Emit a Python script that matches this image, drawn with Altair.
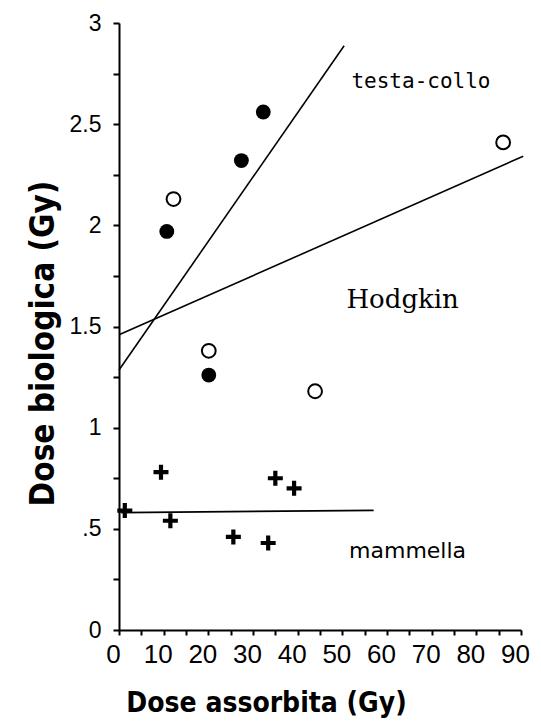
import altair as alt
import pandas as pd

# --- data ---
# filled circles (testa-collo)
tc_x = [10.7, 20.1, 27.4, 32.3]
tc_y = [1.97, 1.26, 2.32, 2.56]
# open circles (Hodgkin)
hd_x = [12.2, 20.1, 43.9, 86.0]
hd_y = [2.13, 1.38, 1.18, 2.41]
# crosses (mammella)
mm_x = [1.3, 9.4, 11.5, 25.6, 33.4, 35.0, 39.2]
mm_y = [0.59, 0.78, 0.54, 0.46, 0.43, 0.75, 0.70]

# fitted lines
line_names = ["testa-collo", "Hodgkin", "mammella"]
line_intercepts = [1.285, 1.459, 0.58]
line_slopes = [0.0318, 0.00975, 0.0002]
line_x_start = [0.0, 0.0, 0.5]
line_x_end = [50.4, 90.5, 57.0]

# annotations
ann_text = ["testa-collo", "Hodgkin", "mammella"]
ann_x = [67.6, 63.5, 64.6]
ann_y = [2.71, 1.63, 0.39]

x_ticks = list(range(0, 91, 5))
y_ticks = [i * 0.25 for i in range(13)]

# --- tables ---
rows = []
for n, b, m, x0, x1 in zip(line_names, line_intercepts, line_slopes, line_x_start, line_x_end):
    for xv in (x0, x1):
        rows.append({"name": n, "x": xv, "y": b + m * xv})
lines_df = pd.DataFrame(rows)
tc_df = pd.DataFrame({"x": tc_x, "y": tc_y})
hd_df = pd.DataFrame({"x": hd_x, "y": hd_y})
mm_df = pd.DataFrame({"x": mm_x, "y": mm_y})
ann_df = pd.DataFrame({"t": ann_text, "x": ann_x, "y": ann_y})

x_axis = alt.Axis(
    values=x_ticks, format="d",
    labelExpr="datum.value % 10 == 0 ? datum.label : ''",
    labelOverlap=False, labelFlush=False, labelOffset=-6,
    tickSize=5, tickWidth=2, tickColor="black",
    domainWidth=2, domainColor="black",
    labelFont="Liberation Sans", labelFontSize=26, labelColor="black", labelPadding=6,
    grid=False,
    titleFont="DejaVu Sans Condensed, DejaVu Sans", titleFontSize=28, titleFontWeight="bold",
    titleColor="black", titleX=147, titleY=81, titleAlign="center", titleBaseline="alphabetic",
)
y_axis = alt.Axis(
    values=y_ticks,
    labelExpr="(datum.value * 2) % 1 == 0 ? (datum.value == 0.5 ? '.5' : format(datum.value, '~g')) : ''",
    labelOverlap=False, labelFlush=False,
    tickSize=6, tickWidth=2, tickColor="black",
    domainWidth=2, domainColor="black",
    labelFont="Liberation Sans", labelFontSize=23, labelColor="black", labelPadding=12,
    grid=False,
    titleFont="DejaVu Sans Condensed, DejaVu Sans", titleFontSize=33, titleFontWeight="bold",
    titleColor="black", titleAngle=270, titleX=-66, titleY=320, titleAlign="center",
    titleBaseline="alphabetic",
)
X = alt.X("x:Q", scale=alt.Scale(domain=[0, 90], nice=False, zero=False), axis=x_axis,
          title="Dose assorbita (Gy)")
Y = alt.Y("y:Q", scale=alt.Scale(domain=[0, 3], nice=False, zero=False), axis=y_axis,
          title="Dose biologica (Gy)")

lines = alt.Chart(lines_df).mark_line(color="black", strokeWidth=1.6).encode(
    x=X, y=Y, detail="name:N")
filled = alt.Chart(tc_df).mark_point(shape="circle", filled=True, color="black", size=220,
                                     opacity=1).encode(x=X, y=Y)
opened = alt.Chart(hd_df).mark_point(shape="circle", filled=True, fill="white", stroke="black",
                                     strokeWidth=2, size=190, opacity=1).encode(x=X, y=Y)
crosses = alt.Chart(mm_df).mark_point(
    shape="M-0.28,-1H0.28V-0.28H1V0.28H0.28V1H-0.28V0.28H-1V-0.28H-0.28Z",
    filled=True, color="black", size=225, opacity=1).encode(x=X, y=Y)

t1 = alt.Chart(ann_df.iloc[[0]]).mark_text(font="DejaVu Sans Mono", fontSize=21, color="black",
                                           align="center", baseline="middle").encode(x=X, y=Y, text="t:N")
t2 = alt.Chart(ann_df.iloc[[1]]).mark_text(font="DejaVu Serif", fontSize=26, color="black",
                                           align="center", baseline="middle").encode(x=X, y=Y, text="t:N")
t3 = alt.Chart(ann_df.iloc[[2]]).mark_text(font="DejaVu Sans", fontSize=22, color="black",
                                           align="center", baseline="middle").encode(x=X, y=Y, text="t:N")

chart = alt.layer(lines, opened, filled, crosses, t1, t2, t3).properties(
    width=402, height=607,
    autosize=alt.AutoSizeParams(type="none"),
    padding={"left": 111, "top": 15, "right": 12, "bottom": 89},
).configure_view(stroke=None)

chart.save("out.html", embed_options={"renderer": "svg", "actions": False})
